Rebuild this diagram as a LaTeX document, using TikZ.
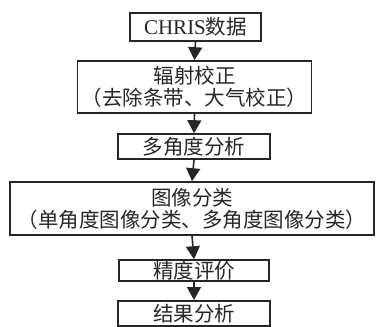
\documentclass[tikz,border=0pt]{standalone}
\usepackage{fontspec}
\setmainfont{Liberation Serif}
\newfontfamily\cjk{Noto Sans CJK SC}
\usetikzlibrary{arrows.meta}
\tikzset{
  box/.style={draw=black!85, line width=1.6pt, rectangle, inner sep=0pt, align=center, font=\fontsize{20.5}{22}\selectfont\cjk, text=black!85},
  flow/.style={draw=black!85, line width=1.6pt, -{Triangle[width=14pt,length=13pt]}, shorten >=0pt}
}
\begin{document}
\begin{tikzpicture}[x=1pt,y=-1pt]
\useasboundingbox (0,0) rectangle (379,326);
\node[box, minimum width=131pt, minimum height=28pt] (b1) at (195.5,27) {{\rmfamily\fontsize{21}{22}\selectfont CHRIS}数据};
\node[box, minimum width=234pt, minimum height=52pt] (b2) at (194.5,87) {辐射校正\\（去除条带、大气校正）};
\node[box, minimum width=152pt, minimum height=25pt] (b3) at (194,146.5) {多角度分析};
\node[box, minimum width=364pt, minimum height=53pt] (b4) at (192,208.5) {图像分类\\（单角度图像分类、多角度图像分类）};
\node[box, minimum width=150pt, minimum height=21pt] (b5) at (194,270.5) {精度评价};
\node[box, minimum width=152pt, minimum height=25pt, anchor=north] (b6) at (194,300) {结果分析};
\draw[flow] (b1.south) -- (b2.north);
\draw[flow] (b2.south) -- (b3.north);
\draw[flow] (b3.south) -- (b4.north);
\draw[flow] (b4.south) -- (b5.north);
\draw[flow] (b5.south) -- (b6.north);
\end{tikzpicture}
\end{document}
